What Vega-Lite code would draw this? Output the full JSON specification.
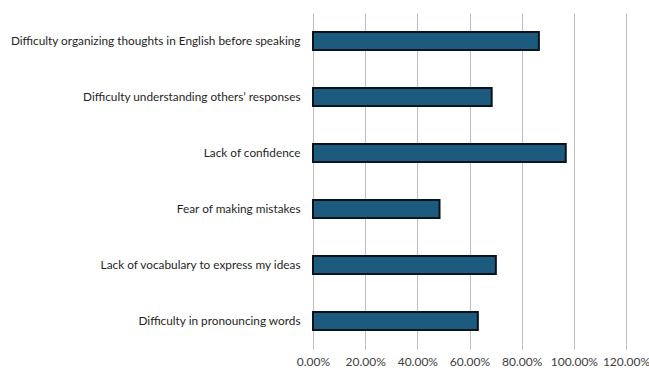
{
  "$schema": "https://vega.github.io/schema/vega-lite/v6.json",
  "autosize": {"type": "none"},
  "width": 313,
  "height": 336,
  "padding": {"left": 313, "top": 13, "right": 23, "bottom": 27},
  "background": "white",
  "data": {
    "values": [
      {"item": "Difficulty organizing thoughts in English before speaking", "pct": 0.866},
      {"item": "Difficulty understanding others’ responses", "pct": 0.685},
      {"item": "Lack of confidence", "pct": 0.969},
      {"item": "Fear of making mistakes", "pct": 0.485},
      {"item": "Lack of vocabulary to express my ideas", "pct": 0.701},
      {"item": "Difficulty in pronouncing words", "pct": 0.632}
    ]
  },
  "mark": {"type": "bar", "fill": "#1c5a7e", "stroke": "#08131d", "strokeWidth": 2},
  "encoding": {
    "y": {
      "field": "item", "type": "nominal", "sort": null, "title": null,
      "scale": {"paddingInner": 0.68, "paddingOuter": 0.34},
      "axis": {"ticks": false, "domain": false, "labelPadding": 13, "labelFont": "Lato", "labelFontSize": 11.8, "labelColor": "#1f1f1f", "labelLimit": 320}
    },
    "x": {
      "field": "pct", "type": "quantitative", "title": null,
      "scale": {"domain": [0, 1.2], "nice": false},
      "axis": {"format": ".2%", "values": [0, 0.2, 0.4, 0.6, 0.8, 1.0, 1.2], "ticks": false, "domain": false, "grid": true, "gridColor": "#bdbdbd", "gridWidth": 1, "labelPadding": 7, "labelFont": "Lato", "labelFontSize": 12, "labelColor": "#404040", "labelFlush": false, "labelOverlap": false}
    }
  },
  "config": {"view": {"stroke": null}}
}
